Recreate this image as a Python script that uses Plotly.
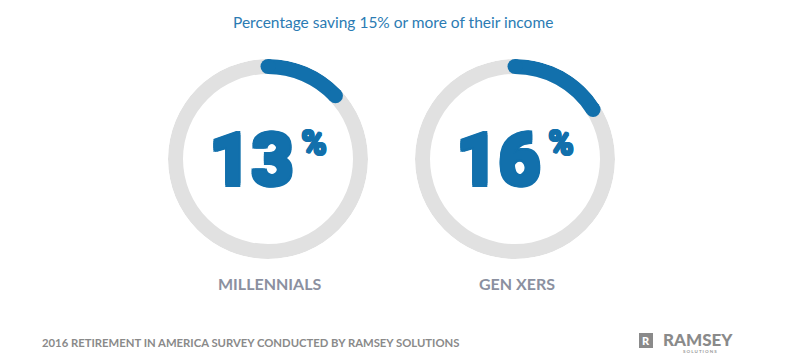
import plotly.graph_objects as go

# ---- data ----
groups = ["MILLENNIALS", "GEN XERS"]
values = [13, 16]
title_text = "Percentage saving 15% or more of their income"
footer_text = "2016 RETIREMENT IN AMERICA SURVEY CONDUCTED BY RAMSEY SOLUTIONS"

W, H = 811, 356
BLUE = "#1270ac"
GRAY_RING = "#e1e1e1"
LABEL_GRAY = "#8b90a0"

centers_px = [268, 515]
cy_px = 159
R_OUT = 100
THICK = 15

def px(x):
    return x / W

def py(y):
    return 1 - y / H

def heavy(color, d):
    offs = [(d, 0), (-d, 0), (0, d), (0, -d), (d, d), (-d, -d), (d, -d), (-d, d)]
    return ", ".join(f"{a}px {b}px 0 {color}" for a, b in offs)

fig = go.Figure()
layout_polars = {}
annotations = []

for i, (g, v) in enumerate(zip(groups, values)):
    name = "polar" if i == 0 else f"polar{i+1}"
    sub = name
    cx = centers_px[i]
    layout_polars[name] = dict(
        domain=dict(x=[px(cx - R_OUT), px(cx + R_OUT)],
                    y=[py(cy_px + R_OUT), py(cy_px - R_OUT)]),
        radialaxis=dict(visible=False, range=[0, R_OUT]),
        angularaxis=dict(visible=False, direction="clockwise", rotation=90,
                         thetaunit="degrees"),
        bgcolor="rgba(0,0,0,0)",
        hole=0,
    )
    fig.add_trace(go.Barpolar(r=[THICK], base=[R_OUT - THICK], theta=[180], width=[360],
                              marker=dict(color=GRAY_RING, line=dict(width=0)),
                              subplot=sub, hoverinfo="skip", showlegend=False))
    ang = v * 3.6
    fig.add_trace(go.Barpolar(r=[THICK], base=[R_OUT - THICK], theta=[ang / 2], width=[ang],
                              marker=dict(color=BLUE, line=dict(width=0)),
                              subplot=sub, hovertemplate=f"{g}: {v}%<extra></extra>",
                              showlegend=False))
    fig.add_trace(go.Scatterpolar(r=[R_OUT - THICK / 2] * 2, theta=[0, ang], mode="markers",
                                  marker=dict(color=BLUE, size=THICK, line=dict(width=0)),
                                  subplot=sub, hoverinfo="skip", showlegend=False))
    annotations.append(dict(x=px(cx + 28), y=py(cy_px + 1), xref="paper", yref="paper",
                            text=f"{v}", showarrow=False, xanchor="right", yanchor="middle",
                            font=dict(family="Roboto", size=73, color=BLUE, weight=900,
                                      shadow=heavy(BLUE, 1.6))))
    annotations.append(dict(x=px(cx + 31), y=py(cy_px - 16), xref="paper", yref="paper",
                            text="%", showarrow=False, xanchor="left", yanchor="middle",
                            font=dict(family="Roboto", size=35, color=BLUE, weight=900,
                                      shadow=heavy(BLUE, 0.8))))
    annotations.append(dict(x=px(cx + 2), y=py(283), xref="paper", yref="paper",
                            text=g, showarrow=False, xanchor="center", yanchor="middle",
                            font=dict(family="Lato", size=16, color=LABEL_GRAY, weight=700)))

annotations.append(dict(x=px(393), y=py(22), xref="paper", yref="paper", text=title_text,
                        showarrow=False, xanchor="center", yanchor="middle",
                        font=dict(family="Lato", size=15.5, color="#2b7bb3")))
annotations.append(dict(x=px(40), y=py(342), xref="paper", yref="paper", text=footer_text,
                        showarrow=False, xanchor="left", yanchor="middle",
                        font=dict(family="Lato", size=11.3, color="#8a8a8a", weight=700)))
annotations.append(dict(x=px(646), y=py(340.5), xref="paper", yref="paper", text="R",
                        showarrow=False, xanchor="center", yanchor="middle",
                        font=dict(family="Lato", size=11, color="white", weight=900)))
annotations.append(dict(x=px(661), y=py(339), xref="paper", yref="paper", text="RAMSEY",
                        showarrow=False, xanchor="left", yanchor="middle",
                        font=dict(family="Lato", size=17, color="#8a8a8a", weight=900)))
annotations.append(dict(x=px(700), y=py(351.5), xref="paper", yref="paper",
                        text="S O L U T I O N S",
                        showarrow=False, xanchor="center", yanchor="middle",
                        font=dict(family="Lato", size=4.5, color="#9a9a9a", weight=700)))

fig.update_layout(
    width=W, height=H,
    margin=dict(l=0, r=0, t=0, b=0),
    paper_bgcolor="white", plot_bgcolor="white",
    annotations=annotations,
    shapes=[dict(type="rect", xref="paper", yref="paper",
                 x0=px(639), x1=px(653), y0=py(348), y1=py(333),
                 fillcolor="#8a8a8a", line=dict(width=0), layer="below")],
    **layout_polars,
)

fig.write_html("out.html", config={"displayModeBar": False},
               post_script="document.body.style.margin='0';document.body.style.overflow='hidden';")
